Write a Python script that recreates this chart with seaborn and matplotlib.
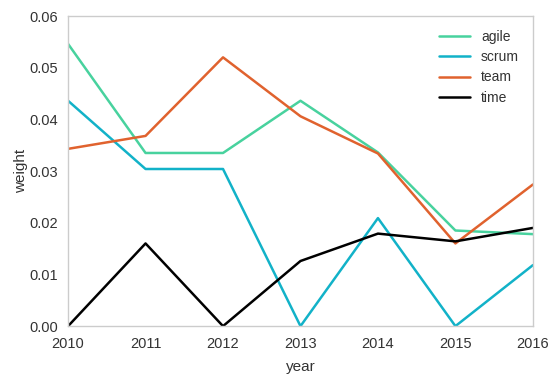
import matplotlib
matplotlib.use("Agg")
import matplotlib.pyplot as plt
import seaborn as sns
import pandas as pd

years = [2010, 2011, 2012, 2013, 2014, 2015, 2016]
agile = [0.0546, 0.0335, 0.0335, 0.0436, 0.0336, 0.0185, 0.0178]
scrum = [0.0436, 0.0304, 0.0304, 0.0, 0.0209, 0.0, 0.0118]
team = [0.0343, 0.0368, 0.0520, 0.0406, 0.0334, 0.0160, 0.0274]
time_ = [0.0, 0.0160, 0.0, 0.0126, 0.0179, 0.0164, 0.0190]
series_names = ["agile", "scrum", "team", "time"]
colors = ["#48d29e", "#12b2c8", "#e0622e", "#000000"]

sns.set_style("white")
plt.rcParams['font.family'] = ['Liberation Sans', 'DejaVu Sans']

df = pd.DataFrame({"year": years, "agile": agile, "scrum": scrum, "team": team, "time": time_})
long = df.melt(id_vars="year", value_vars=series_names, var_name="word", value_name="weight")

fig = plt.figure(figsize=(5.58, 3.81), dpi=100)
ax = fig.add_axes([0.122, 0.144, 0.833, 0.814])
sns.lineplot(data=long, x="year", y="weight", hue="word", palette=colors,
             hue_order=series_names, linewidth=1.8, ax=ax)
ax.set_xlim(2010, 2016)
ax.set_ylim(0, 0.06)
ax.set_xticks(years)
ax.set_xticklabels([str(y) for y in years])
ax.set_yticks([0, 0.01, 0.02, 0.03, 0.04, 0.05, 0.06])
ax.set_yticklabels(["0.00", "0.01", "0.02", "0.03", "0.04", "0.05", "0.06"])
ax.tick_params(labelsize=10.5, colors="#333333", length=0, pad=7)
ax.tick_params(axis="x", pad=8)
ax.set_xlabel("year", fontsize=11, color="#333333", labelpad=6)
ax.set_ylabel("weight", fontsize=11, color="#333333", labelpad=1.5)
for s in ax.spines.values():
    s.set_color("#cccccc")
    s.set_linewidth(1)
leg = ax.legend(loc="upper right", frameon=False, fontsize=10, handlelength=2.2,
                borderaxespad=0.6, labelspacing=0.45)
for t in leg.get_texts():
    t.set_color("#333333")
fig.savefig("out.png", dpi=100)
